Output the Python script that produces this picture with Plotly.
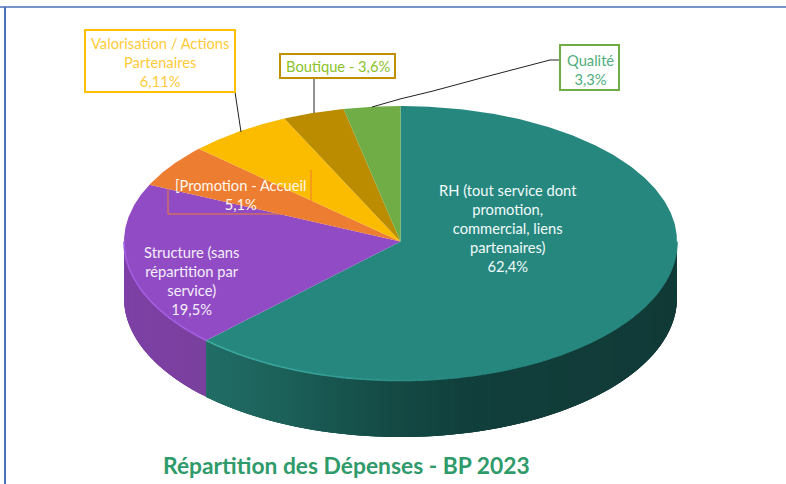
import numpy as np
import plotly.graph_objects as go

# ---- data ----
categories = ["RH (tout service dont<br>promotion,<br>commercial, liens<br>partenaires)",
              "Structure (sans<br>répartition par<br>service)",
              "[Promotion - Accueil",
              "Valorisation / Actions<br>Partenaires",
              "Boutique - 3,6%",
              "Qualité"]
values = [62.4, 19.5, 5.1, 6.11, 3.6, 3.3]
value_labels = ["62,4%", "19,5%", "5,1%", "6,11%", "", "3,3%"]
slice_colors = ["#26877F", "#914CC5", "#ED7D31", "#FBBC00", "#BC8C00", "#70AD47"]
title_text = "Répartition des Dépenses - BP 2023"

# ---- projection of the tilted pie, in page pixels ----
CX, CY, A, B_UP, B_DOWN, DEPTH = 400.5, 241.5, 276.5, 135.5, 139.0, 56.5
FONT = "Lato, 'Open Sans', sans-serif"


def rim(theta_deg, drop=0.0):
    t = np.radians(np.asarray(theta_deg, dtype=float))
    c = np.cos(t)
    return CX + A * np.sin(t), CY - np.where(c > 0, B_UP, B_DOWN) * c + drop


def mix(c1, c2, f):
    a = [int(c1[i:i + 2], 16) for i in (1, 3, 5)]
    b = [int(c2[i:i + 2], 16) for i in (1, 3, 5)]
    return "#%02x%02x%02x" % tuple(round(p + (q - p) * f) for p, q in zip(a, b))


def ramp(x, stops):
    for (x0, c0), (x1, c1) in zip(stops, stops[1:]):
        if x <= x1:
            return mix(c0, c1, max(0.0, (x - x0) / (x1 - x0)))
    return stops[-1][1]


wall_ramps = {
    0: [(206, "#216E66"), (300, "#1B5F58"), (400, "#144A45"), (480, "#113F3B"), (677, "#113A37")],
    1: [(124, "#7E40A6"), (206, "#7A409E")],
}
rim_ramps = {
    0: [(206, "#3FAEA3"), (330, "#35A096"), (450, "#26877F"), (677, "#26877F")],
    1: [(124, "#A45FE2"), (206, "#A45FE2")],
}

total = sum(values)
edges = np.concatenate([[0], np.cumsum(values)]) / total * 360
fig = go.Figure()


def poly(xs, ys, color, width=0.0):
    fig.add_trace(go.Scatter(x=xs, y=ys, mode="lines", fill="toself", fillcolor=color,
                             line=dict(color=color, width=width), hoverinfo="skip", showlegend=False))


# side walls: each strip runs under the next one, so no seams show
for i in (1, 0):
    lo, hi = max(edges[i], 90), min(edges[i + 1], 270)
    steps = np.linspace(hi, lo, int(hi - lo) + 2)
    for t0, t1 in zip(steps, steps[1:]):
        th = np.linspace(t1, min(t0 + 2.0, hi), 5)
        tx, ty = rim(th)
        bx, by = rim(th[::-1], DEPTH)
        poly(np.r_[tx, bx], np.r_[ty, by], ramp(rim([t0, t1])[0].mean(), wall_ramps[i]))

# top face
for i, color in enumerate(slice_colors):
    th = np.linspace(edges[i], edges[i + 1], max(int(edges[i + 1] - edges[i]) * 2, 6))
    x, y = rim(th)
    poly(np.r_[CX, x, CX], np.r_[CY, y, CY], color)

# light rim on the front edge
for i in (1, 0):
    lo, hi = max(edges[i], 90), min(edges[i + 1], 270)
    steps = np.linspace(lo, hi, int(hi - lo) + 2)
    for t0, t1 in zip(steps, steps[1:]):
        x, y = rim([t0, t1])
        fig.add_trace(go.Scatter(x=x, y=y, mode="lines", hoverinfo="skip", showlegend=False,
                                 line=dict(color=ramp(x.mean(), rim_ramps[i]), width=1.6)))


def label(x, y, text, color, size=14.7):
    fig.add_annotation(x=x, y=y, text=text, showarrow=False, xanchor="center", yanchor="middle",
                       align="center", font=dict(family=FONT, size=size, color=color))


def compose(i):
    return categories[i] + ("<br>" + value_labels[i] if value_labels[i] else "")


shapes = [
    dict(type="line", x0=0, x1=786, y0=7, y1=7, line=dict(color="#4A72B8", width=1.5)),
    dict(type="line", x0=5, x1=5, y0=7, y1=484, line=dict(color="#4A72B8", width=2)),
    # leader lines
    dict(type="line", x0=235, y0=92, x1=241, y1=132, line=dict(color="#222222", width=1)),
    dict(type="line", x0=314, y0=78, x1=314, y1=113, line=dict(color="#222222", width=1)),
    dict(type="path", path="M372,107 L400,99 L433,91 L485,77 L550,60 L560,60",
         line=dict(color="#222222", width=1)),
    # label boxes
    dict(type="rect", x0=85, x1=235, y0=30, y1=92, fillcolor="white", line=dict(color="#FFC000", width=2)),
    dict(type="rect", x0=280, x1=395, y0=54, y1=78, fillcolor="white", line=dict(color="#BF9000", width=2)),
    dict(type="rect", x0=560, x1=619, y0=45, y1=90, fillcolor="white", line=dict(color="#70AD47", width=2)),
    dict(type="path", path="M311,170 L311,214 L168,214 L168,188", line=dict(color="#ED7D31", width=1)),
]

label(508, 228, compose(0), "#F2FBFA")
label(191, 280, compose(1), "#F6EEFC")
label(240, 194, compose(2), "#FFF6EE")
label(160, 62, compose(3), "#FFCB3A")
label(338, 66, compose(4), "#8CC22A")
label(590, 69, compose(5), "#4FAE7C")
label(346.5, 465, "<b>" + title_text + "</b>", "#2F9A6A", size=22.8)

fig.update_layout(
    width=786, height=484, margin=dict(l=0, r=0, t=0, b=0),
    paper_bgcolor="white", plot_bgcolor="white", showlegend=False, shapes=shapes,
    xaxis=dict(range=[0, 786], visible=False, fixedrange=True),
    yaxis=dict(range=[484, 0], visible=False, fixedrange=True),
)
fig.write_html("out.html", config=dict(displayModeBar=False),
               post_script="document.body.style.margin='0';")
